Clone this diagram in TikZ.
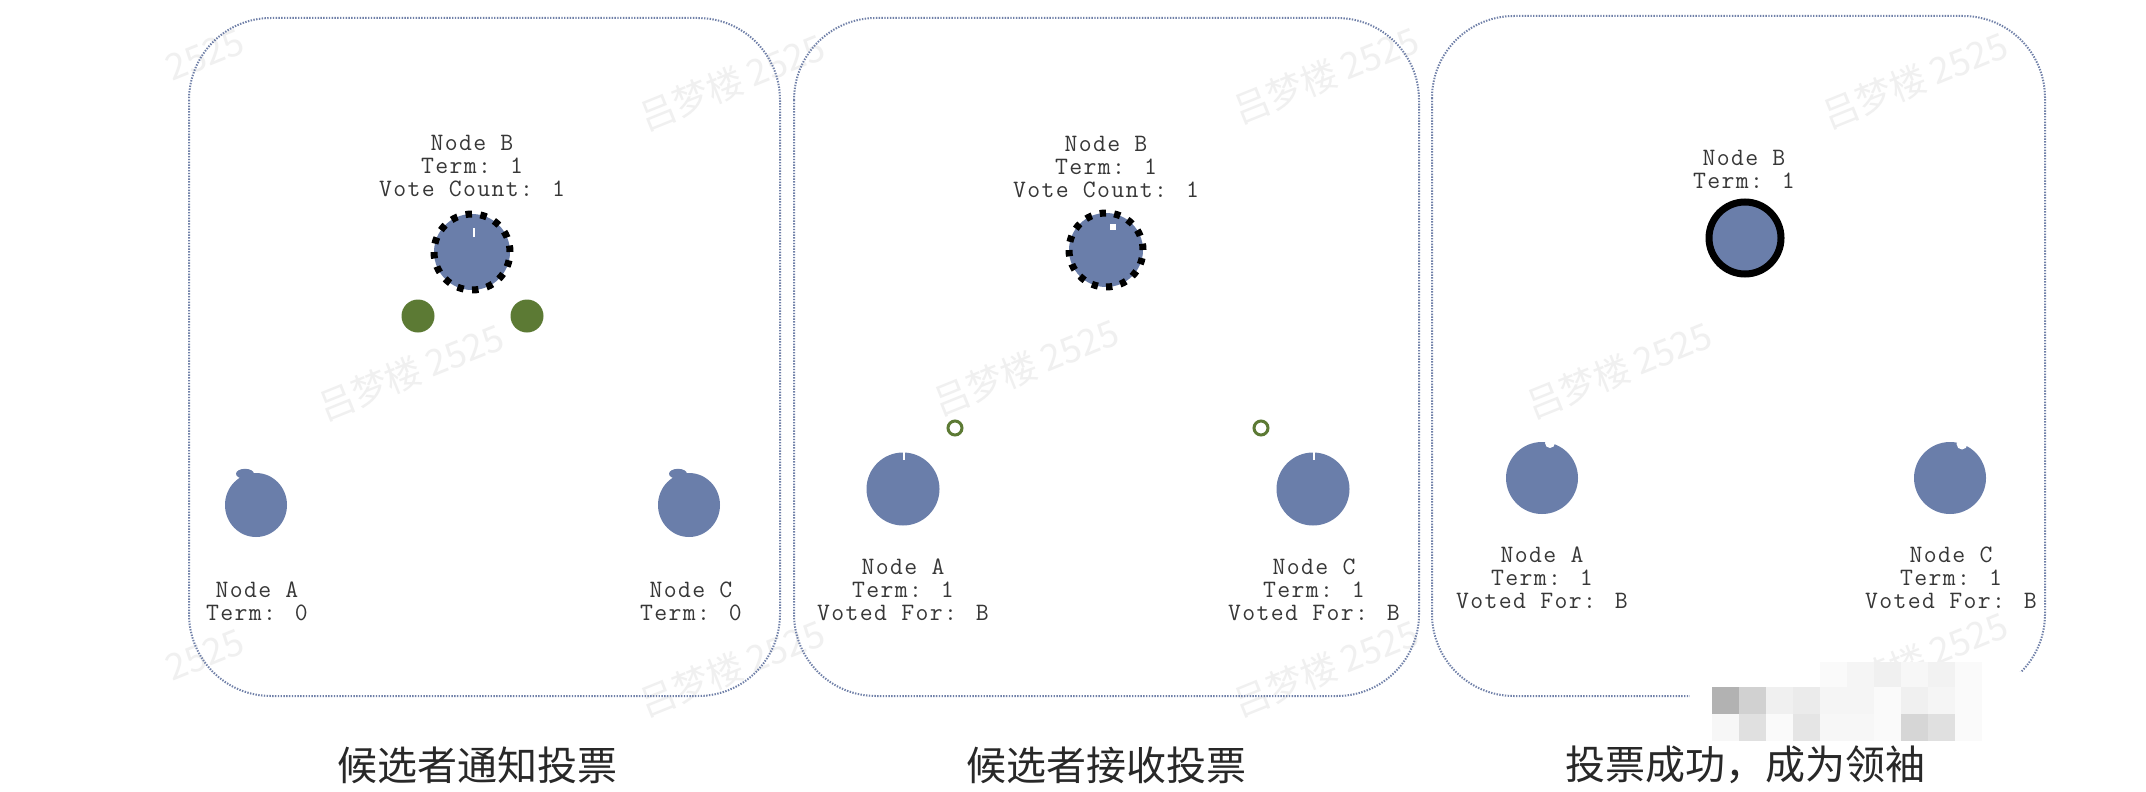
\documentclass[tikz,border=0pt]{standalone}
\usepackage{fontspec}
\newfontfamily\cjk{Noto Sans CJK SC}
\newfontfamily\labmono[LetterSpace=5.5]{Latin Modern Mono}
\usetikzlibrary{shapes.geometric}
\definecolor{nodeblue}{RGB}{106,126,170}
\definecolor{vgreen}{RGB}{92,122,52}
\definecolor{panelline}{RGB}{112,128,168}
\definecolor{txt}{RGB}{55,55,55}
\definecolor{capt}{RGB}{40,40,40}
\begin{document}
\begin{tikzpicture}[x=1pt,y=-1pt,
  panel/.style={draw=panelline, line width=2pt, dash pattern=on 1.4pt off 1.4pt, rounded corners=82pt},
  raft/.style={circle, fill=nodeblue, inner sep=0pt, minimum size=72pt},
  cand/.style={raft, draw=black, line width=7pt},
  lab/.style={font=\labmono\fontsize{25}{23}\selectfont, text=txt, align=center, inner sep=0pt},
  capnode/.style={font=\cjk\fontsize{40}{40}\selectfont, text=capt, inner sep=0pt},
  wm/.style={font=\cjk\fontsize{36}{36}\selectfont, text=black!6, rotate=22, inner sep=0pt},
  vote/.style={circle, fill=vgreen, minimum size=33pt, inner sep=0pt},
  ring/.style={circle, draw=vgreen, line width=3pt, minimum size=14pt, inner sep=0pt}]
\useasboundingbox (0,0) rectangle (2146,792);
\fill[white] (0,0) rectangle (2146,792);

% watermarks
\node[wm] (w1) at (205,55) {2525};
\node[wm] (w2) at (732,82) {吕梦楼 2525};
\node[wm] (w3) at (1326,75) {吕梦楼 2525};
\node[wm] (w4) at (1915,80) {吕梦楼 2525};
\node[wm] (w5) at (411,372) {吕梦楼 2525};
\node[wm] (w6) at (1026,367) {吕梦楼 2525};
\node[wm] (w7) at (1619,370) {吕梦楼 2525};
\node[wm] (w8) at (205,655) {2525};
\node[wm] (w9) at (732,668) {吕梦楼 2525};
\node[wm] (w10) at (1326,668) {吕梦楼 2525};
\node[wm] (w11) at (1915,660) {吕梦楼 2525};

% panels
\draw[panel] (189,18) rectangle (780,696);
\draw[panel] (794,18) rectangle (1419,696);
\draw[panel] (1432,16) rectangle (2045,696);

% ---------- panel 1 ----------
\node[raft, draw=black, line width=7pt, minimum size=76pt, dash pattern=on 6.5pt off 8.42pt] (B1) at (472,252) {};
\draw[white, line width=1.5pt] (B1.center) ++(2,-15) -- ++(0,-9);
\node[lab] (B1l) at (472,166) {Node B\\Term: 1\\Vote Count: 1};
\node[vote] (v1) at (418,316) {};
\node[vote] (v2) at (527,316) {};
\node[ellipse, fill=nodeblue, inner sep=0pt, minimum width=62pt, minimum height=64pt] (A1) at (256,505) {};
\fill[nodeblue] (A1.north) ++(-11,1) ellipse [x radius=9, y radius=5];
\node[ellipse, fill=nodeblue, inner sep=0pt, minimum width=62pt, minimum height=64pt] (C1) at (689,505) {};
\fill[nodeblue] (C1.north) ++(-11,1) ellipse [x radius=9, y radius=5];
\node[lab] (A1l) at (257,601) {Node A\\Term: 0};
\node[lab] (C1l) at (691,601) {Node C\\Term: 0};

% ---------- panel 2 ----------
\node[raft, draw=black, line width=7pt, minimum size=74pt, dash pattern=on 6.3pt off 8.23pt] (B2) at (1106,250) {};
\fill[white] (B2.center) ++(4,-26) rectangle ++(6,6);
\node[lab] (B2l) at (1106,167) {Node B\\Term: 1\\Vote Count: 1};
\node[ring] (r1) at (955,428) {};
\node[ring] (r2) at (1261,428) {};
\node[raft, minimum size=73pt] (A2) at (903,489) {};
\draw[white, line width=1.5pt] (A2.north) ++(1,0) -- ++(0,8);
\node[raft, minimum size=73pt] (C2) at (1313,489) {};
\draw[white, line width=1.5pt] (C2.north) ++(1,0) -- ++(0,8);
\node[lab] (A2l) at (903,590) {Node A\\Term: 1\\Voted For: B};
\node[lab] (C2l) at (1314,590) {Node C\\Term: 1\\Voted For: B};

% ---------- panel 3 ----------
\node[cand] (B3) at (1745,238) {};
\node[lab] (B3l) at (1744,169) {Node B\\Term: 1};
\node[raft] (A3) at (1542,478) {};
\fill[white] (A3.center) ++(8,-35) circle (5);
\node[raft] (C3) at (1950,478) {};
\fill[white] (C3.center) ++(12,-34) circle (5.5);
\node[lab] (A3l) at (1542,578) {Node A\\Term: 1\\Voted For: B};
\node[lab] (C3l) at (1951,578) {Node C\\Term: 1\\Voted For: B};

% mosaic over the bottom-right corner
\fill[white] (1690,672) rectangle (2070,752);
\foreach \i/\g in {0/30,1/18,2/6,3/8,4/4,5/4,6/2,7/6,8/4,9/2}
  \fill[black!\g] (1712+27*\i,687) rectangle ++(27,27);
\foreach \i/\g in {0/3,1/12,2/2,3/10,4/3,5/3,6/2,7/16,8/12,9/2}
  \fill[black!\g] (1712+27*\i,714) rectangle ++(27,27);
\foreach \i/\g in {4/2,5/4,6/6,7/3,8/5,9/2}
  \fill[black!\g] (1712+27*\i,662) rectangle ++(27,25);

% captions
\node[capnode] (cap1) at (477,765) {候选者通知投票};
\node[capnode] (cap2) at (1106,765) {候选者接收投票};
\node[capnode] (cap3) at (1745,765) {投票成功，成为领袖};
\end{tikzpicture}
\end{document}
